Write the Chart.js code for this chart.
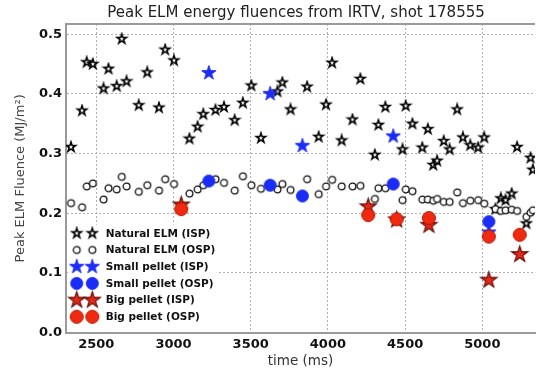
<!DOCTYPE html>
<html>
<head>
<meta charset="utf-8">
<script src="https://cdn.jsdelivr.net/npm/chart.js@4.4.1/dist/chart.umd.min.js"></script>
<style>
html, body { margin: 0; padding: 0; background: #fff; }
</style>
</head>
<body>
<canvas id="chart" width="540" height="372"></canvas>
<script>
// Natural ELMs share one time base (inner and outer strike point)
const naturalTimes = [2336, 2408, 2438, 2478, 2547, 2579, 2632, 2665, 2696, 2775,
  2830, 2906, 2946, 3003, 3103, 3156, 3193, 3272, 3327, 3396,
  3449, 3504, 3566, 3673, 3705, 3758, 3865, 3940, 3988, 4027,
  4089, 4159, 4210, 4304, 4327, 4372, 4483, 4504, 4547, 4611,
  4647, 4682, 4707, 4750, 4788, 4837, 4874, 4922, 4973, 5012,
  5085, 5120, 5150, 5190, 5225, 5285, 5312, 5327];
const naturalIsp = [0.311, 0.372, 0.453, 0.450, 0.409, 0.442, 0.413, 0.492, 0.421, 0.381,
  0.436, 0.377, 0.474, 0.456, 0.325, 0.345, 0.366, 0.373, 0.378, 0.356,
  0.385, 0.414, 0.326, 0.404, 0.419, 0.374, 0.412, 0.328, 0.382, 0.452,
  0.322, 0.357, 0.425, 0.298, 0.348, 0.378, 0.307, 0.380, 0.350, 0.310,
  0.341, 0.281, 0.288, 0.321, 0.307, 0.374, 0.327, 0.314, 0.310, 0.327,
  0.207, 0.225, 0.222, 0.233, 0.311, 0.183, 0.293, 0.273];
const naturalOsp = [0.217, 0.210, 0.245, 0.250, 0.223, 0.242, 0.240, 0.261, 0.245, 0.236,
  0.247, 0.238, 0.257, 0.249, 0.233, 0.240, 0.247, 0.257, 0.251, 0.238,
  0.262, 0.247, 0.241, 0.240, 0.249, 0.239, 0.257, 0.232, 0.245, 0.256,
  0.245, 0.245, 0.246, 0.224, 0.242, 0.242, 0.222, 0.240, 0.237, 0.223,
  0.223, 0.221, 0.224, 0.219, 0.219, 0.235, 0.217, 0.221, 0.222, 0.216,
  0.207, 0.204, 0.205, 0.206, 0.204, 0.194, 0.201, 0.205];

// Pellet-triggered ELMs
const smallTimes = [3229, 3626, 3835, 4423, 5042];
const smallIsp = [0.435, 0.400, 0.313, 0.329, 0.168];
const smallOsp = [0.254, 0.247, 0.229, 0.249, 0.186];
const bigTimes = [3050, 4261, 4445, 4654, 5042, 5242];
const bigIsp = [0.214, 0.211, 0.189, 0.180, 0.088, 0.131];
const bigOsp = [0.207, 0.197, 0.190, 0.192, 0.161, 0.164];

const xTicks = [2500, 3000, 3500, 4000, 4500, 5000];
const yTicks = [0, 0.1, 0.2, 0.3, 0.4, 0.5];

// build a marker image (star or circle) to use as pointStyle
function makeMarker(shape, r, fill, stroke, lw) {
  const size = Math.ceil(2 * r + lw + 2);
  const c = document.createElement('canvas');
  c.width = size;
  c.height = size;
  const g = c.getContext('2d');
  const cx = size / 2, cy = size / 2;
  g.beginPath();
  if (shape === 'star') {
    for (let i = 0; i < 10; i++) {
      const rad = i % 2 ? r * 0.382 : r;
      const a = -Math.PI / 2 + i * Math.PI / 5;
      g.lineTo(cx + rad * Math.cos(a), cy + rad * Math.sin(a));
    }
    g.closePath();
  } else {
    g.arc(cx, cy, r, 0, Math.PI * 2);
  }
  g.fillStyle = fill;
  g.fill();
  g.lineWidth = lw;
  g.strokeStyle = stroke;
  g.stroke();
  return c;
}

const markers = [
  makeMarker('star', 5, '#ffffff', '#000000', 1.6),
  makeMarker('circle', 3.4, '#ffffff', '#111111', 1.3),
  makeMarker('star', 7.5, '#1a2cf5', '#1a2cf5', 1),
  makeMarker('circle', 6, '#1a2cf5', '#1a2cf5', 1),
  makeMarker('star', 8.5, '#e8261a', '#5a0a00', 1.1),
  makeMarker('circle', 6.5, '#f02a10', '#b01800', 1)
];
const labels = ['Natural ELM (ISP)', 'Natural ELM (OSP)', 'Small pellet (ISP)',
  'Small pellet (OSP)', 'Big pellet (ISP)', 'Big pellet (OSP)'];

function pts(xs, ys) {
  return xs.map((x, i) => ({ x: x, y: ys[i] }));
}

const seriesData = [
  pts(naturalTimes, naturalIsp),
  pts(naturalTimes, naturalOsp),
  pts(smallTimes, smallIsp),
  pts(smallTimes, smallOsp),
  pts(bigTimes, bigIsp),
  pts(bigTimes, bigOsp)
];

const datasets = seriesData.map((d, i) => ({
  label: labels[i],
  data: d,
  pointStyle: markers[i],
  order: 5 - i,
  showLine: false
}));

// frame, in-plot legend and title
const overlay = {
  id: 'overlay',
  afterDraw(chart) {
    const ctx = chart.ctx;
    const a = chart.chartArea;
    ctx.save();
    // top frame line
    ctx.strokeStyle = '#9a9a9a';
    ctx.lineWidth = 2;
    ctx.beginPath();
    ctx.moveTo(a.left, a.top);
    ctx.lineTo(a.right, a.top);
    ctx.stroke();

    // legend
    ctx.fillStyle = '#ffffff';
    ctx.fillRect(a.left + 2, a.bottom - 108, 150, 106);
    ctx.font = 'bold 10.5px "DejaVu Sans"';
    ctx.textBaseline = 'middle';
    ctx.textAlign = 'left';
    labels.forEach((lab, i) => {
      const y = a.bottom - 99.4 + i * 16.7;
      const m = markers[i];
      [a.left + 10.7, a.left + 26.3].forEach(x => {
        ctx.drawImage(m, x - m.width / 2, y - m.height / 2);
      });
      ctx.fillStyle = '#111111';
      ctx.fillText(lab, a.left + 39.7, y + 0.5);
    });

    // title
    ctx.font = '15px "DejaVu Sans"';
    ctx.textAlign = 'center';
    ctx.fillStyle = '#222222';
    ctx.fillText('Peak ELM energy fluences from IRTV, shot 178555', 296, 13);
    ctx.restore();
  }
};

new Chart(document.getElementById('chart'), {
  type: 'scatter',
  data: { datasets: datasets },
  plugins: [overlay],
  options: {
    responsive: false,
    devicePixelRatio: 1,
    animation: false,
    layout: { padding: { top: 24, right: 0, left: 0, bottom: 0 } },
    plugins: {
      legend: { display: false },
      title: { display: false },
      tooltip: { enabled: false }
    },
    scales: {
      x: {
        type: 'linear',
        min: 2304,
        max: 5341,
        afterBuildTicks: s => { s.ticks = xTicks.map(v => ({ value: v })); },
        afterFit: s => { s.height = 39.3; },
        grid: { color: '#b0b0b0', lineWidth: 1, drawTicks: false },
        border: { color: '#9a9a9a', width: 2, dash: [2, 2] },
        ticks: {
          padding: 4,
          color: '#111',
          font: { family: 'DejaVu Sans', size: 13, weight: 'bold' },
          callback: v => String(v)
        },
        title: {
          display: true,
          text: 'time (ms)',
          color: '#333',
          padding: { top: 0, bottom: 2 },
          font: { family: 'DejaVu Sans', size: 13.5 }
        }
      },
      y: {
        min: 0,
        max: 0.517,
        afterBuildTicks: s => { s.ticks = yTicks.map(v => ({ value: v })); },
        afterFit: s => { s.width = 66; },
        grid: { color: '#b0b0b0', lineWidth: 1, drawTicks: false },
        border: { color: '#9a9a9a', width: 2, dash: [2, 2] },
        ticks: {
          padding: 4,
          color: '#111',
          font: { family: 'DejaVu Sans', size: 13, weight: 'bold' },
          callback: v => v.toFixed(1)
        },
        title: {
          display: true,
          text: 'Peak ELM Fluence (MJ/m²)',
          color: '#444',
          padding: { top: 13, bottom: 0 },
          font: { family: 'DejaVu Sans', size: 13 }
        }
      }
    }
  }
});
</script>
</body>
</html>
